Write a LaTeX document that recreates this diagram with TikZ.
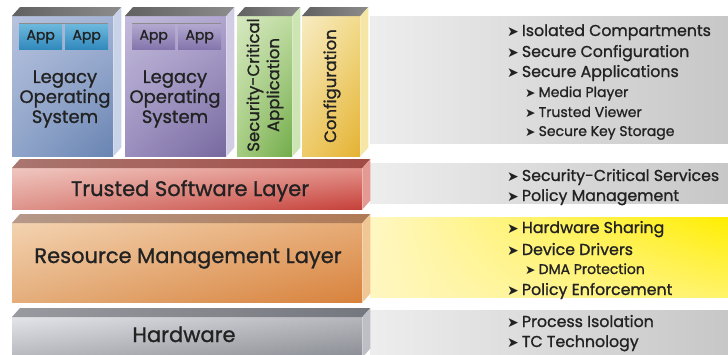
\documentclass[tikz,border=0pt]{standalone}
\usepackage{fontspec}
\setmainfont{Poppins}[FakeBold=1.1]
\newfontfamily\symfont{DejaVu Sans}
\usetikzlibrary{calc,shadings}
\definecolor{txt}{HTML}{222222}
\definecolor{ya}{HTML}{FFF7C4}\definecolor{yb}{HTML}{FFF6C0}\definecolor{yc}{HTML}{FFEE00}\definecolor{yd}{HTML}{FFF36A}
\definecolor{o1a}{HTML}{B7C3DE}\definecolor{o1b}{HTML}{A3B3D5}\definecolor{o1c}{HTML}{8FA4C9}\definecolor{o1d}{HTML}{6884B2}\definecolor{o1s}{HTML}{C9D3E8}
\definecolor{o2a}{HTML}{C3BBDB}\definecolor{o2b}{HTML}{AFA5CF}\definecolor{o2c}{HTML}{9A8EBE}\definecolor{o2d}{HTML}{76689E}\definecolor{o2s}{HTML}{D2CCE5}
\definecolor{ga}{HTML}{D6E8C0}\definecolor{gb}{HTML}{BEDBA0}\definecolor{gc}{HTML}{A5CC80}\definecolor{gd}{HTML}{72AC4A}\definecolor{gs}{HTML}{CDE4B3}
\definecolor{ca}{HTML}{F7EBC2}\definecolor{cb}{HTML}{F2DB8C}\definecolor{cc}{HTML}{EECB6A}\definecolor{cd}{HTML}{E4B232}\definecolor{cs}{HTML}{F6E6A6}
\definecolor{ap1}{HTML}{6CB8DD}\definecolor{ap2}{HTML}{3189BC}\definecolor{ap3}{HTML}{B2A8CF}\definecolor{ap4}{HTML}{8476AC}
\definecolor{ta}{HTML}{EFC6BF}\definecolor{tb}{HTML}{E29088}\definecolor{tc}{HTML}{DE948B}\definecolor{td}{HTML}{C6403A}\definecolor{ts}{HTML}{E49A93}\definecolor{tt1}{HTML}{A9766F}\definecolor{tt2}{HTML}{A24A44}
\definecolor{ra}{HTML}{F3D2B0}\definecolor{rb}{HTML}{E6AA74}\definecolor{rc}{HTML}{E4AE7C}\definecolor{rd}{HTML}{D8823C}\definecolor{rs}{HTML}{F0C794}\definecolor{rt1}{HTML}{B5998A}\definecolor{rt2}{HTML}{AF7A56}
\definecolor{ha}{HTML}{E3E4E8}\definecolor{hb}{HTML}{B4B6BC}\definecolor{hc}{HTML}{B6B8BD}\definecolor{hd}{HTML}{8A8D93}\definecolor{hs}{HTML}{BDBFC4}\definecolor{ht1}{HTML}{989AA0}\definecolor{ht2}{HTML}{74777D}
\newcommand\bul{{\symfont\fontsize{14}{10}\selectfont ➤}\hspace{3pt}}
\newcommand\sbul{{\symfont\fontsize{12.5}{10}\selectfont ➤}\hspace{3pt}}
\newcommand\threed[3]{%
  \path[#2] (#1.north west) -- ++(8,-9) -- ($(#1.north east)+(8,-9)$) -- (#1.north east) -- cycle;
  \path[#3] (#1.north east) -- ++(8,-9) -- ($(#1.south east)+(8,-9)$) -- (#1.south east) -- cycle;}
\begin{document}
\begin{tikzpicture}[x=1pt,y=-1pt,
  front/.style={draw=none, inner sep=0pt, anchor=north west, minimum width=#1},
  cubetop/.style={left color=black!62, right color=black!45},
  lbl/.style={text=txt, font=\fontsize{18}{20}\selectfont, align=center, inner sep=0pt},
  rlbl/.style={text=txt, font=\fontsize{16.5}{20}\selectfont, align=center, inner sep=0pt, rotate=90},
  layerlbl/.style={text=txt, font=\fontsize{21}{24}\selectfont, inner sep=0pt, anchor=base},
  appbox/.style={inner sep=0pt, minimum width=43, minimum height=25, anchor=north west, text=txt, font=\fontsize{14}{16}\selectfont},
  item/.style={text=txt, font=\fontsize{15.8}{18}\selectfont, inner sep=0pt, anchor=base west},
  subitem/.style={text=txt, font=\fontsize{14}{16}\selectfont, inner sep=0pt, anchor=base west},
  graypanel/.style={inner sep=0pt, anchor=north west, minimum width=358, left color=black!7, right color=black!22}
]
\useasboundingbox (0,0) rectangle (728,354);
\fill[white] (0,0) rectangle (728,354);

% right panels
\node[graypanel, minimum height=127] (p1) at (370,16) {};
\node[graypanel, minimum height=40] (p2) at (370,163) {};
\node[inner sep=0pt, anchor=north west, minimum width=358, minimum height=80,
  upper left=ya, lower left=yb, upper right=yc, lower right=yd] (p3) at (370,217) {};
\node[graypanel, minimum height=44] (p4) at (370,310) {};

% OS boxes
\node[front=101, minimum height=140, upper left=o1a, upper right=o1b, lower left=o1c, lower right=o1d] (os1) at (12,16) {};
\threed{os1}{cubetop}{fill=o1s}
\node[front=101, minimum height=140, upper left=o2a, upper right=o2b, lower left=o2c, lower right=o2d] (os2) at (125,16) {};
\threed{os2}{cubetop}{fill=o2s}
\node[front=55, minimum height=140, upper left=ga, upper right=gb, lower left=gc, lower right=gd] (sca) at (237,16) {};
\threed{sca}{cubetop}{fill=gs}
\node[front=58, minimum height=140, upper left=ca, upper right=cb, lower left=cc, lower right=cd] (cfg) at (302,16) {};
\threed{cfg}{cubetop}{fill=cs}

% app boxes
\draw[black!45, line width=1pt] (19,23) -- (108,23);
\node[appbox, top color=ap1, bottom color=ap2] (a1) at (19,24) {App};
\node[appbox, top color=ap1, bottom color=ap2] (a2) at (65,24) {App};
\draw[black!45, line width=1pt] (132,23) -- (221,23);
\node[appbox, top color=ap3, bottom color=ap4] (a3) at (132,24) {App};
\node[appbox, top color=ap3, bottom color=ap4] (a4) at (178,24) {App};

\node[lbl] (l1) at (65,99) {Legacy\\Operating\\System};
\node[lbl] (l2) at (175,99) {Legacy\\Operating\\System};
\node[rlbl] (l3) at (265,85) {Security-Critical\\Application};
\node[rlbl] (l4) at (332,86) {Configuration};

% layers
\node[front=350, minimum height=41, upper left=ta, upper right=tb, lower left=tc, lower right=td] (tsl) at (12,168) {};
\threed{tsl}{left color=tt1, right color=tt2}{fill=ts}
\node[front=350, minimum height=79, upper left=ra, upper right=rb, lower left=rc, lower right=rd] (rml) at (12,223) {};
\threed{rml}{left color=rt1, right color=rt2}{fill=rs}
\node[front=350, minimum height=40, upper left=ha, upper right=hb, lower left=hc, lower right=hd] (hw) at (12,317) {};
\threed{hw}{left color=ht1, right color=ht2}{fill=hs}

\node[layerlbl] (t1) at (190,196) {Trusted Software Layer};
\node[layerlbl] (t2) at (188,263) {Resource Management Layer};
\node[layerlbl] (t3) at (184,342) {Hardware};

% bullet items
\node[item] (b1) at (507,36) {\bul Isolated Compartments};
\node[item] (b2) at (507,57) {\bul Secure Configuration};
\node[item] (b3) at (507,77) {\bul Secure Applications};
\node[subitem] (b4) at (525,97) {\sbul Media Player};
\node[subitem] (b5) at (525,117) {\sbul Trusted Viewer};
\node[subitem] (b6) at (525,136) {\sbul Secure Key Storage};
\node[item] (b7) at (507,181) {\bul Security-Critical Services};
\node[item] (b8) at (507,201) {\bul Policy Management};
\node[item] (b9) at (507,233) {\bul Hardware Sharing};
\node[item] (b10) at (507,255) {\bul Device Drivers};
\node[subitem] (b11) at (525,274) {\sbul DMA Protection};
\node[item] (b12) at (507,295) {\bul Policy Enforcement};
\node[item] (b13) at (507,327) {\bul Process Isolation};
\node[item] (b14) at (507,347) {\bul TC Technology};
\end{tikzpicture}
\end{document}
